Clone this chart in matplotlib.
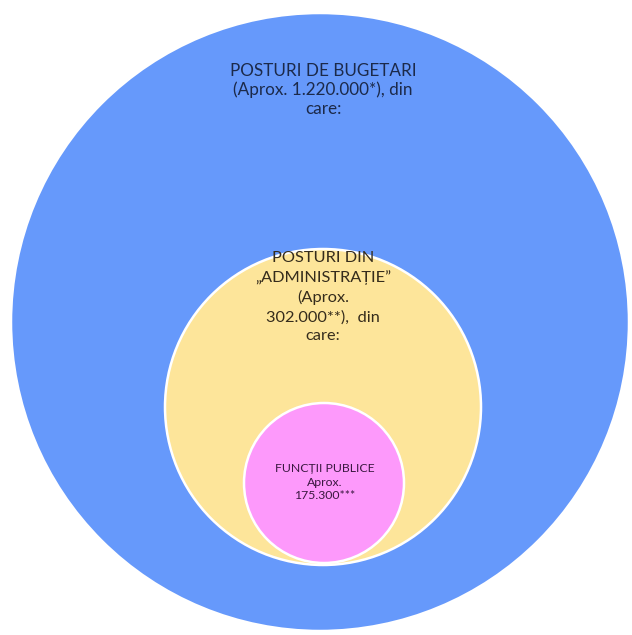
import matplotlib
matplotlib.use("Agg")
import matplotlib.pyplot as plt
from matplotlib.patches import Circle

# Data
categories = ["POSTURI DE BUGETARI", "POSTURI DIN „ADMINISTRAȚIE”", "FUNCȚII PUBLICE"]
values = [1220000, 302000, 175300]
value_labels = ["1.220.000*", "302.000**", "175.300***"]

labels = [
    "POSTURI DE BUGETARI\n(Aprox. 1.220.000*), din\ncare:",
    "POSTURI DIN\n„ADMINISTRAȚIE”\n(Aprox.\n302.000**),  din\ncare:",
    "FUNCȚII PUBLICE\nAprox.\n175.300***",
]

# Layout (pixel coordinates, y downward)
centers = [(320, 322), (323, 407), (324, 483)]
radii = [309, 158, 80]
colors = ["#6699fb", "#fde59a", "#fd99fb"]
text_pos = [(323, 90), (323, 297), (325, 482)]
text_colors = ["#1c2a4a", "#352c1c", "#3a1840"]
text_sizes = [12.3, 11.8, 8.8]
line_sp = [1.2, 1.42, 1.3]

plt.rcParams['font.family'] = ['Lato', 'DejaVu Sans']

fig = plt.figure(figsize=(6.32, 6.35), dpi=100)
ax = fig.add_axes([0, 0, 1, 1])
ax.set_xlim(0, 632)
ax.set_ylim(635, 0)
ax.set_aspect('equal')
ax.axis('off')

for (c, r, col) in zip(centers, radii, colors):
    ax.add_patch(Circle(c, r, facecolor=col, edgecolor='white', linewidth=1.8))

for (pos, txt, tc, ts, ls) in zip(text_pos, labels, text_colors, text_sizes, line_sp):
    ax.text(pos[0], pos[1], txt, ha='center', va='center', color=tc,
            fontsize=ts, linespacing=ls, multialignment='center')

fig.savefig("out.png", dpi=100, facecolor='white')
